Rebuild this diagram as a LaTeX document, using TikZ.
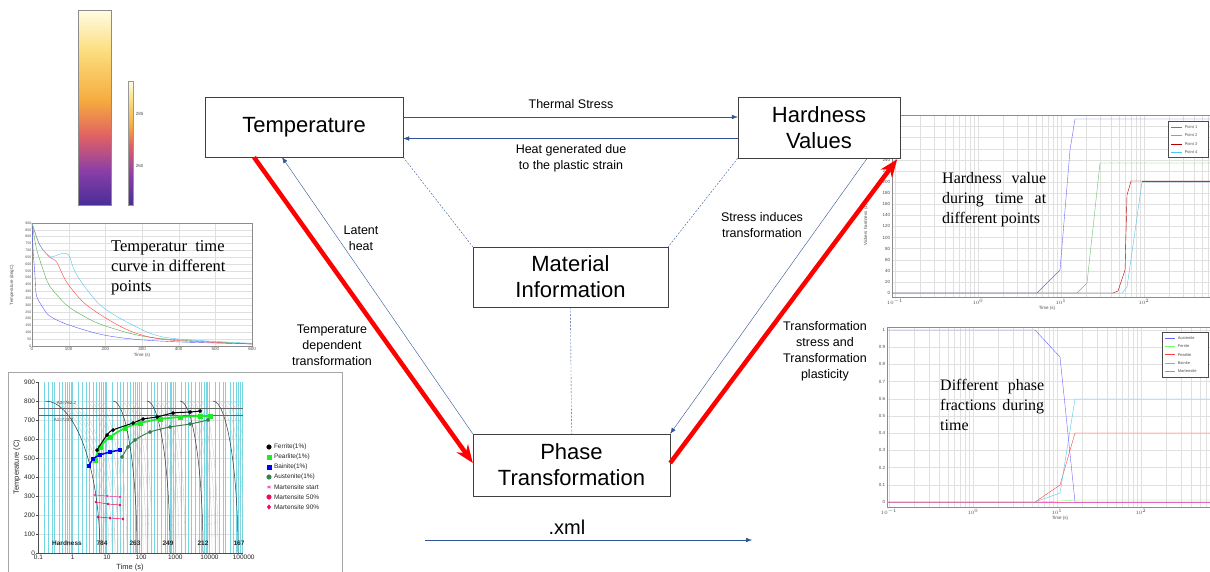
\documentclass[tikz,border=0pt]{standalone}
\usepackage{fontspec}
\setmainfont{Liberation Sans}
\newfontfamily\plotserif{Liberation Serif}
\usetikzlibrary{arrows.meta,positioning,plotmarks}

\definecolor{linkblue}{RGB}{47,85,151}
\definecolor{cctcyan}{RGB}{120,214,226}
\definecolor{cmA}{RGB}{255,252,228}
\definecolor{cmB}{RGB}{252,222,128}
\definecolor{cmC}{RGB}{246,172,62}
\definecolor{cmD}{RGB}{226,98,98}
\definecolor{cmE}{RGB}{140,62,168}
\definecolor{cmF}{RGB}{72,46,152}
\definecolor{ferritegreen}{RGB}{30,235,40}
\definecolor{austgreen}{RGB}{50,130,80}

\begin{document}
\begin{tikzpicture}[x=1pt,y=-1pt,
box/.style =
  {rectangle,
   draw=black!75, fill=white, thin,
   align=center, inner sep=0pt,
   font=\fontsize{22}{26}\selectfont},
link/.style={draw=linkblue, thin, -{Latex[length=6pt,width=4.5pt]}},
redlink/.style={draw=red, line width=4.5pt, -{Stealth[length=18pt,width=14pt]}},
dashlink/.style={draw=linkblue, thin, dash pattern=on 2pt off 1.5pt},
lbl/.style={align=center, inner sep=0pt, font=\fontsize{12.5}{16}\selectfont},
plotnote/.style={anchor=north west, inner sep=0pt,
  font=\plotserif\fontsize{16}{20}\selectfont},
ticklbl/.style={inner sep=0.6pt, text=black!70, font=\fontsize{4.5}{5}\selectfont},
cctlbl/.style={inner sep=0.8pt, text=black!85, font=\fontsize{6.5}{7}\selectfont},
gridline/.style={draw=black!12, line width=0.3pt},
frameline/.style={draw=black!45, line width=0.4pt}
]
\useasboundingbox (0,0) rectangle (1210,571);

%Colour map
\shade[top color=cmA, bottom color=cmB] (78,10) rectangle (111,50.5);
\shade[top color=cmB, bottom color=cmC] (78,50) rectangle (111,100.5);
\shade[top color=cmC, bottom color=cmD] (78,100) rectangle (111,135.5);
\shade[top color=cmD, bottom color=cmE] (78,135) rectangle (111,170.5);
\shade[top color=cmE, bottom color=cmF] (78,170) rectangle (111,205);
\draw[black!45, line width=0.4pt] (78,10) rectangle (111,205);
\shade[top color=cmA, bottom color=cmB] (128,81) rectangle (133,100.5);
\shade[top color=cmB, bottom color=cmC] (128,100) rectangle (133,125.5);
\shade[top color=cmC, bottom color=cmD] (128,125) rectangle (133,145.5);
\shade[top color=cmD, bottom color=cmE] (128,145) rectangle (133,175.5);
\shade[top color=cmE, bottom color=cmF] (128,175) rectangle (133,205);
\draw[black!40, line width=0.3pt] (128,81) rectangle (133,205);
\node[ticklbl, anchor=west] (cbhigh) at (135,114) {285};
\node[ticklbl, anchor=west] (cblow) at (135,166) {260};

%Temperature-time plot
\foreach \t in {100,200,...,500}
  \draw[gridline] ({32+\t*0.3667},223) -- ({32+\t*0.3667},346);
\foreach \T in {50,100,...,850}
  \draw[gridline] (32,{346-\T*0.1367}) -- (252,{346-\T*0.1367});
\draw[frameline] (32,223) rectangle (252,346);
\foreach \T in {0,50,...,900}
  \node[ticklbl, anchor=east, font=\fontsize{3.5}{4}\selectfont] (tty\T) at (32,{346-\T*0.1367}) {\T};
\foreach \t in {0,100,...,600}
  \node[ticklbl, anchor=north] (ttx\t) at ({32+\t*0.3667},347) {\t};
\node[ticklbl] (ttxlabel) at (142,355) {Time (s)};
\node[ticklbl, rotate=90] (ttylabel) at (12,285) {Temperature (degC)};
\begin{scope}[shift={(32,346)}, x=0.3667pt, y=0.1367pt]
\draw[blue!65, thin] plot[smooth] coordinates
  {(0,900) (3,700) (8,520) (12,370) (30,280) (48,220) (94,160) (186,86) (277,50) (400,30) (600,15)};
\draw[green!55!black!70, thin] plot[smooth] coordinates
  {(0,900) (12,715) (30,560) (48,440) (94,300) (140,220) (186,160) (277,86) (370,50) (600,15)};
\draw[red!75, thin] plot[smooth] coordinates
  {(0,900) (21,740) (48,650) (67,615) (94,470) (140,320) (204,200) (277,100) (370,45) (600,15)};
\draw[cyan!70, thin] plot[smooth] coordinates
  {(0,900) (21,740) (50,655) (80,675) (100,665) (122,520) (186,300) (277,150) (370,60) (600,20)};
\end{scope}
\node[anchor=north west, inner sep=0pt, align=left,
  font=\plotserif\fontsize{16.5}{20}\selectfont] (tempnote) at (111,240)
  {Temperatur~ time\\curve in different\\points};

%CCT diagram
\draw[black!35, line width=0.5pt] (8,372) rectangle (342,580);
\foreach \T in {100,200,...,800}
  \draw[gridline] (38,{553-0.19*\T}) -- (243,{553-0.19*\T});
\foreach \d in {0,...,5}
  \foreach \m in {1,1.5,2,2.5,3,4,5,6,7,8,9}
    \draw[cctcyan, line width=1pt] ({38.5+34.2*(\d+log10(\m))},382) -- ++(0,171);
\begin{scope}
\clip (38,382) rectangle (243,553);
\foreach \s/\e in {45/100,80/112,113/137,147/170,180/203,213/238}
  \foreach \k in {1,...,5}{
    \pgfmathsetmacro\sa{\s+4*\k}
    \pgfmathsetmacro\ea{\e+3*\k}
    \pgfmathsetmacro\ca{\sa+0.55*(\ea-\sa)}
    \draw[black!22, line width=0.3pt] (\sa,401) .. controls (\ca,401) and (\ea,469) .. (\ea,553);
  }
\foreach \s/\e in {45/100,113/137,147/170,180/203,213/238}{
  \pgfmathsetmacro\ca{\s+0.55*(\e-\s)}
  \draw[black!80, line width=0.5pt] (\s,401) .. controls (\ca,401) and (\e,469) .. (\e,553);
}
\end{scope}
\draw[black!60, line width=0.6pt] (38,408) -- (243,408);
\draw[black!60, line width=0.6pt] (38,415.6) -- (243,415.6);
\node[ticklbl, anchor=west] (athree) at (56,403) {A3=762.2};
\node[ticklbl, anchor=west] (aone) at (53,420) {A1=723.2};
\draw[black!70, line width=0.5pt] (38,382) -- (38,553) -- (243,553);
\foreach \T in {0,100,...,900}{
  \draw[black!70, line width=0.4pt] (36,{553-0.19*\T}) -- (38,{553-0.19*\T});
  \node[cctlbl, anchor=east] (ccty\T) at (36,{553-0.19*\T}) {\T};
}
\foreach \lab [count=\k from 0] in {0.1,1,10,100,1000,10000,100000}
  \node[cctlbl, anchor=north] (cctx\k) at ({38.5+34.2*\k},554) {\lab};
\node[cctlbl, font=\fontsize{7.5}{8}\selectfont] (cctxlabel) at (130,568) {Time (s)};
\node[cctlbl, rotate=90, font=\fontsize{7.5}{8}\selectfont] (cctylabel) at (17,467) {Temperature (C)};
\node[cctlbl, font=\bfseries\fontsize{6.5}{7}\selectfont] (hardlab) at (67,543) {Hardness};
\foreach \x/\h in {102/784,135/263,168/249,203/212,239/167}
  \node[cctlbl, font=\bfseries\fontsize{6.5}{7}\selectfont] (hv\h) at (\x,543) {\h};
%start curves
\draw[ferritegreen, line width=1.8pt] plot[smooth, mark=square*, mark size=1.6pt]
  coordinates {(95,460) (100,447) (110,437) (125,428) (140,423) (160,419) (180,417) (200,416) (210,416)};
\draw[black, line width=1pt] plot[smooth, mark=*, mark size=1.3pt]
  coordinates {(97,450) (107,435) (113,430) (133,423) (143,419) (157,417) (173,413) (190,412) (200,411)};
\draw[blue, line width=1.5pt] plot[smooth, mark=square*, mark size=1.6pt]
  coordinates {(89,466) (93,459) (100,455) (110,452) (120,450)};
\draw[austgreen, line width=1pt] plot[smooth, mark=*, mark size=1.4pt]
  coordinates {(122,457) (128,447) (135,440) (150,432) (170,427) (190,424) (208,420)};
\draw[magenta!80, line width=0.5pt] plot[mark=asterisk, mark size=1.3pt]
  coordinates {(95,495) (107,496) (120,497)};
\draw[magenta!60!red, line width=0.5pt] plot[mark=*, mark size=1pt]
  coordinates {(96,502) (108,504) (120,505)};
\draw[red!60!magenta, line width=0.5pt] plot[mark=diamond*, mark size=1.2pt]
  coordinates {(98,517) (110,518) (123,519)};
%legend
\foreach \lab/\mk/\col [count=\k from 0] in
  {Ferrite(1\%)/*/black, Pearlite(1\%)/square*/ferritegreen, Bainite(1\%)/square*/blue,
   Austenite(1\%)/*/austgreen, Martensite start/asterisk/magenta!80,
   Martensite 50\%/*/magenta!60!red, Martensite 90\%/diamond*/red!60!magenta}{
  \draw[\col] plot[mark=\mk, mark size=2.3pt] coordinates {(269,{447+10*\k})};
  \node[cctlbl, anchor=west] (cctleg\k) at (273,{447+10*\k}) {\lab};
}

%Hardness plot
\begin{scope}
\clip (892,115) rectangle (1210,297);
\foreach \d in {0,...,3}
  \foreach \m in {1,...,9}
    \draw[gridline] ({895+83*(\d+log10(\m))},115) -- ++(0,182);
\foreach \v in {0,20,...,320}
  \draw[gridline] (892,{293-0.555*\v}) -- (1210,{293-0.555*\v});
\end{scope}
\draw[frameline] (1210,115) -- (892,115) -- (892,297) -- (1210,297);
\foreach \v in {0,20,...,240}
  \node[ticklbl, anchor=east] (hy\v) at (891,{293-0.555*\v}) {\v};
\foreach \lab [count=\k from 0] in {-1,0,1,2}
  \node[ticklbl, anchor=north] (hx\k) at ({895+83*\k},298) {$10^{\lab}$};
\node[ticklbl] (hxlabel) at (1047,308) {Time (s)};
\node[ticklbl, rotate=90] (hylabel) at (866,225) {Vickers hardness (1)};
\draw[blue!60, thin] (892,293) -- (1037,293) -- (1060,270) -- (1070,150) -- (1075,119) -- (1210,119);
\draw[green!60!black!60, thin] (892,293) -- (1077,293) -- (1087,283) -- (1100,163) -- (1210,163);
\draw[red!70!black, thin] (892,293) -- (1113,293) -- (1118,291) -- (1125,270) -- (1127,195) -- (1131,181) -- (1210,181);
\draw[cyan!70, thin] (892,293) -- (1122,293) -- (1127,287) -- (1142,182) -- (1210,182);
\draw[black!65, thin] (1142,181.5) -- (1210,181.5);
\node[draw=black!70, fill=white, line width=0.7pt, minimum width=40pt, minimum height=36pt,
  inner sep=0pt] (hleg) at (1188,139.5) {};
\foreach \lab/\col [count=\k from 0] in {Point 1/blue!60, Point 2/green!60!black!60,
  Point 3/red!70!black, Point 4/cyan!70}{
  \draw[\col, thin] (1171,{127+8.5*\k}) -- (1182,{127+8.5*\k});
  \node[ticklbl, anchor=west, font=\fontsize{4}{4}\selectfont] (hleg\k) at (1184,{127+8.5*\k}) {\lab};
}
\node[plotnote] (hardnote) at (942,172)
  {\parbox[t]{104pt}{\hyphenpenalty=10000 Hardness value during time at different points}};

%Phase fraction plot
\begin{scope}
\clip (887,327) rectangle (1210,507);
\foreach \d in {0,...,3}
  \foreach \m in {1,...,9}
    \draw[gridline] ({889+84*(\d+log10(\m))},327) -- ++(0,180);
\foreach \k in {1,...,10}
  \draw[gridline] (887,{502-17.2*\k}) -- (1210,{502-17.2*\k});
\end{scope}
\draw[frameline] (1210,327) -- (887,327) -- (887,507) -- (1210,507);
\foreach \lab [count=\k from 0] in {0,0.1,0.2,0.3,0.4,0.5,0.6,0.7,0.8,0.9,1}
  \node[ticklbl, anchor=east] (py\k) at (886,{502-17.2*\k}) {\lab};
\foreach \lab [count=\k from 0] in {-1,0,1,2}
  \node[ticklbl, anchor=north] (px\k) at ({889+84*\k},508) {$10^{\lab}$};
\node[ticklbl] (pxlabel) at (1060,518) {Time (s)};
\draw[magenta!60, thin] (887,502) -- (1210,502);
\draw[green!60, thin] (887,502) -- (1035,502) -- (1060,501) -- (1075,500) -- (1210,500);
\draw[red!75, thin] (887,502) -- (1035,502) -- (1060,485) -- (1075,433) -- (1210,433);
\draw[cyan!70, thin] (887,502) -- (1035,502) -- (1060,493) -- (1075,399) -- (1210,399);
\draw[blue!60, thin] (887,330) -- (1035,330) -- (1060,357) -- (1075,502) -- (1210,502);
\node[draw=black!70, fill=white, line width=0.7pt, minimum width=46pt, minimum height=45pt,
  inner sep=0pt] (pleg) at (1185,354.5) {};
\foreach \lab/\col [count=\k from 0] in {Austenite/blue!60, Ferrite/green!60,
  Pearlite/red!75, Bainite/cyan!70, Martensite/magenta!60}{
  \draw[\col, thin] (1165,{338+8.3*\k}) -- (1175,{338+8.3*\k});
  \node[ticklbl, anchor=west, font=\fontsize{4}{4}\selectfont] (pleg\k) at (1177,{338+8.3*\k}) {\lab};
}
\node[plotnote] (phasenote) at (940,379)
  {\parbox[t]{104pt}{\hyphenpenalty=10000 Different phase fractions during time}};

%Nodes
\node[box, minimum width=198pt, minimum height=60pt] (temp) at (304,127) {Temperature};
\node[box, minimum width=162pt, minimum height=61pt] (hard) at (819,127.5) {Hardness\\Values};
\node[box, minimum width=195pt, minimum height=60pt] (mat) at (570.5,277) {Material\\Information};
\node[box, minimum width=197pt, minimum height=62pt] (phase) at (571.5,465) {Phase\\Transformation};

%Connectors
\draw[link] ([yshift=10pt]temp.east) -- ([yshift=10pt]temp.east -| hard.west);
\draw[link] ([yshift=-11pt]hard.west) -- ([yshift=-11pt]hard.west -| temp.east);
\node[lbl] (thermal) at (571,104) {Thermal Stress};
\node[lbl] (heatgen) at (571,158) {Heat generated due\\to the plastic strain};
\draw[dashlink] (temp.south east) -- (mat.north west);
\draw[dashlink] (hard.south west) -- (mat.north east);
\draw[dashlink] (mat.south) -- (phase.north);
\draw[link] (phase.north west) -- ([xshift=-22pt]temp.south);
\draw[link] ([xshift=-33pt]hard.south east) -- (phase.north east);
\draw[redlink] ([xshift=-50pt]temp.south) -- ([yshift=2pt]phase.west);
\draw[redlink] ([yshift=2pt]phase.east) -- ([xshift=-3pt,yshift=-1pt]hard.south east);
\node[lbl] (latent) at (361,238) {Latent\\heat};
\node[lbl] (tempdep) at (332,345) {Temperature\\dependent\\transformation};
\node[lbl] (stressind) at (762,225) {Stress induces\\transformation};
\node[lbl] (transstress) at (825,351) {Transformation\\stress and\\Transformation\\plasticity};
\coordinate (xmlstart) at (425,540);
\coordinate (xmlend) at (752,540);
\draw[link] (xmlstart) -- (xmlend);
\node[font=\fontsize{20}{24}\selectfont, inner sep=0pt] (xml) at (567,527) {.xml};
\end{tikzpicture}
\end{document}
